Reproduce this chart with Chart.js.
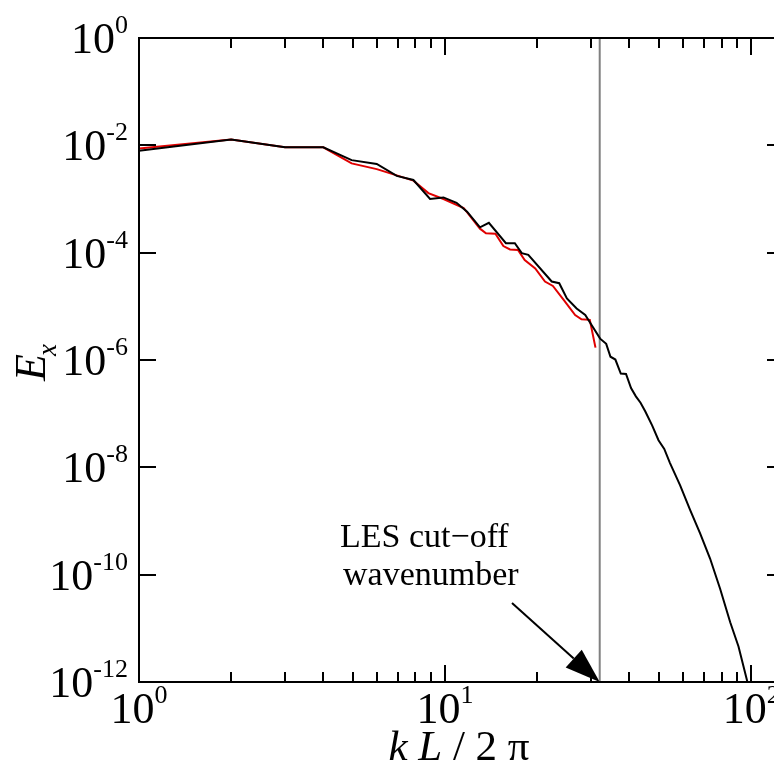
<!DOCTYPE html>
<html><head><meta charset="utf-8">
<script src="https://cdn.jsdelivr.net/npm/chart.js@4/dist/chart.umd.min.js"></script>
<style>html,body{margin:0;padding:0;background:#fff;overflow:hidden;}#wrap{width:800px;height:767px;}</style>
</head><body><div id="wrap"><canvas id="c" width="800" height="767"></canvas></div>
<script>
// DNS spectrum (black)
const dnsK = [1, 2, 3, 4, 4.95, 5.98, 6.95, 7.88, 8.93, 9.88, 10.9, 11.8, 13.0, 13.9, 15.8, 16.9, 17.8, 18.7, 22.3, 23.6, 25.0, 26.9, 28.7, 30.1, 32.1, 33.6, 34.7, 36.0, 37.5, 39.0, 40.5, 42.0, 43.5, 45.1, 47.5, 49.8, 52.0, 54.3, 58.6, 63.2, 68.1, 73.4, 79.2, 85.4, 90.9, 96.8, 100];
const dnsE = [7.9e-3, 1.29e-2, 9.2e-3, 9.2e-3, 5.3e-3, 4.5e-3, 2.7e-3, 2.26e-3, 1.0e-3, 1.07e-3, 8.5e-4, 5.8e-4, 2.97e-4, 3.6e-4, 1.5e-4, 1.5e-4, 9.8e-5, 9.1e-5, 2.9e-5, 2.7e-5, 1.4e-5, 9.1e-6, 6.9e-6, 4.5e-6, 2.5e-6, 2.0e-6, 1.15e-6, 1.02e-6, 5.6e-7, 5.5e-7, 3.0e-7, 2.1e-7, 1.6e-7, 1.1e-7, 6.0e-8, 3.2e-8, 2.2e-8, 1.2e-8, 4.6e-9, 1.6e-9, 5.9e-10, 2.0e-10, 5.4e-11, 1.3e-11, 4.6e-12, 1.1e-12, 5e-13];
// LES spectrum (red)
const lesK = [1, 2, 3, 4, 4.95, 5.98, 7.88, 8.82, 9.88, 11.5, 13.0, 13.6, 14.6, 15.5, 16.3, 17.3, 18.2, 19.7, 21.2, 22.5, 24.4, 26.6, 27.9, 29.7, 31.0];
const lesE = [8.7e-3, 1.29e-2, 9.2e-3, 9.2e-3, 4.6e-3, 3.6e-3, 2.2e-3, 1.29e-3, 1.0e-3, 6.8e-4, 2.8e-4, 2.3e-4, 2.26e-4, 1.33e-4, 1.15e-4, 1.12e-4, 7.3e-5, 5.1e-5, 2.9e-5, 2.4e-5, 1.32e-5, 6.9e-6, 5.75e-6, 5.6e-6, 1.7e-6];
// axes
const xDecades = [1, 10, 100];
const xDecadeExps = [0, 1, 2];
const yMajorExps = [0, -2, -4, -6, -8, -10, -12];
const cutoffK = 32;
const annotLines = ['LES cut\u2212off', 'wavenumber'];

const SERIF = '"Liberation Serif", "Times New Roman", serif';

function drawPow(ctx, exp, px, baseline, align) {
  ctx.font = '44px ' + SERIF;
  const w10 = ctx.measureText('10').width;
  ctx.font = '26px ' + SERIF;
  const es = String(exp);
  const we = ctx.measureText(es).width;
  const w = w10 + we;
  const start = align === 'center' ? px - w / 2 : px - w;
  ctx.textAlign = 'left';
  ctx.textBaseline = 'alphabetic';
  ctx.font = '44px ' + SERIF;
  ctx.fillText('10', start, baseline);
  ctx.font = '26px ' + SERIF;
  ctx.fillText(es, start + w10, baseline - 20);
}

const deco = {
  id: 'deco',
  beforeDatasetsDraw(chart) {
    const { ctx, chartArea: a, scales: { x } } = chart;
    const cx = x.getPixelForValue(cutoffK);
    ctx.save();
    ctx.strokeStyle = '#808080';
    ctx.lineWidth = 2;
    ctx.beginPath();
    ctx.moveTo(cx, a.top);
    ctx.lineTo(cx, a.bottom);
    ctx.stroke();
    ctx.restore();
  },
  afterDatasetsDraw(chart) {
    const { ctx, chartArea: a, scales: { x, y } } = chart;
    ctx.save();
    ctx.strokeStyle = '#000';
    ctx.fillStyle = '#000';
    ctx.lineWidth = 2;
    // frame
    ctx.strokeRect(a.left, a.top, a.right - a.left, a.bottom - a.top);
    // x ticks
    ctx.beginPath();
    xDecades.forEach(d => {
      for (let m = 1; m <= 9; m++) {
        const v = m * d;
        if (v > x.max) break;
        const px = Math.round(x.getPixelForValue(v));
        const len = m === 1 ? 17 : 10;
        ctx.moveTo(px, a.bottom); ctx.lineTo(px, a.bottom - len);
        ctx.moveTo(px, a.top); ctx.lineTo(px, a.top + len);
      }
    });
    // y ticks
    yMajorExps.forEach(e => {
      const py = Math.round(y.getPixelForValue(Math.pow(10, e)));
      ctx.moveTo(a.left, py); ctx.lineTo(a.left + 17, py);
      ctx.moveTo(a.right, py); ctx.lineTo(a.right - 17, py);
    });
    ctx.stroke();
    // x tick labels
    xDecades.forEach((d, i) => {
      const px = x.getPixelForValue(d);
      drawPow(ctx, xDecadeExps[i], px, a.bottom + 41, 'center');
    });
    // y tick labels
    yMajorExps.forEach(e => {
      const py = y.getPixelForValue(Math.pow(10, e));
      drawPow(ctx, e, a.left - 11, py + 15, 'right');
    });
    // x title
    const parts = [['k', 'italic '], [' ', ''], ['L', 'italic '], [' / 2 \u03c0', '']];
    let tw = 0;
    parts.forEach(p => { ctx.font = p[1] + '43px ' + SERIF; tw += ctx.measureText(p[0]).width; });
    let sx = 459 - tw / 2;
    ctx.textAlign = 'left';
    ctx.textBaseline = 'alphabetic';
    parts.forEach(p => { ctx.font = p[1] + '43px ' + SERIF; ctx.fillText(p[0], sx, 760); sx += ctx.measureText(p[0]).width; });
    // y title (rotated)
    ctx.save();
    ctx.translate(45, 381);
    ctx.rotate(-Math.PI / 2);
    ctx.font = 'italic 44px ' + SERIF;
    ctx.fillText('E', 0, 0);
    const we = ctx.measureText('E').width;
    ctx.font = 'italic 27px ' + SERIF;
    ctx.fillText('x', we - 2, 11);
    ctx.restore();
    // annotation text
    ctx.font = '34px ' + SERIF;
    ctx.textAlign = 'left';
    ctx.fillText(annotLines[0], 340, 547);
    ctx.fillText(annotLines[1], 343, 585);
    // arrow
    const tipX = x.getPixelForValue(cutoffK), tipY = a.bottom;
    const sx0 = 512, sy0 = 603;
    const ang = Math.atan2(tipY - sy0, tipX - sx0);
    const hl = 35, hw = 12;
    const bx = tipX - hl * Math.cos(ang), by = tipY - hl * Math.sin(ang);
    ctx.beginPath();
    ctx.moveTo(sx0, sy0); ctx.lineTo(bx, by);
    ctx.stroke();
    ctx.beginPath();
    ctx.moveTo(tipX, tipY);
    ctx.lineTo(bx + hw * Math.sin(ang), by - hw * Math.cos(ang));
    ctx.lineTo(bx - hw * Math.sin(ang), by + hw * Math.cos(ang));
    ctx.closePath();
    ctx.fill();
    ctx.restore();
  }
};

new Chart(document.getElementById('c'), {
  type: 'line',
  data: {
    datasets: [
      { label: 'DNS', data: dnsK.map((k, i) => ({ x: k, y: dnsE[i] })), borderColor: '#000000', borderWidth: 2, pointRadius: 0, tension: 0, fill: false },
      { label: 'LES', data: lesK.map((k, i) => ({ x: k, y: lesE[i] })), borderColor: '#e00000', borderWidth: 2, pointRadius: 0, tension: 0, fill: false }
    ]
  },
  options: {
    responsive: false,
    animation: false,
    devicePixelRatio: 1,
    layout: { padding: { left: 139, top: 38, right: 16, bottom: 85 } },
    plugins: { legend: { display: false }, tooltip: { enabled: false }, title: { display: false } },
    scales: {
      x: { type: 'logarithmic', min: 1, max: 128, display: false },
      y: { type: 'logarithmic', min: 1e-12, max: 1, display: false }
    }
  },
  plugins: [deco]
});
</script>
</body></html>
